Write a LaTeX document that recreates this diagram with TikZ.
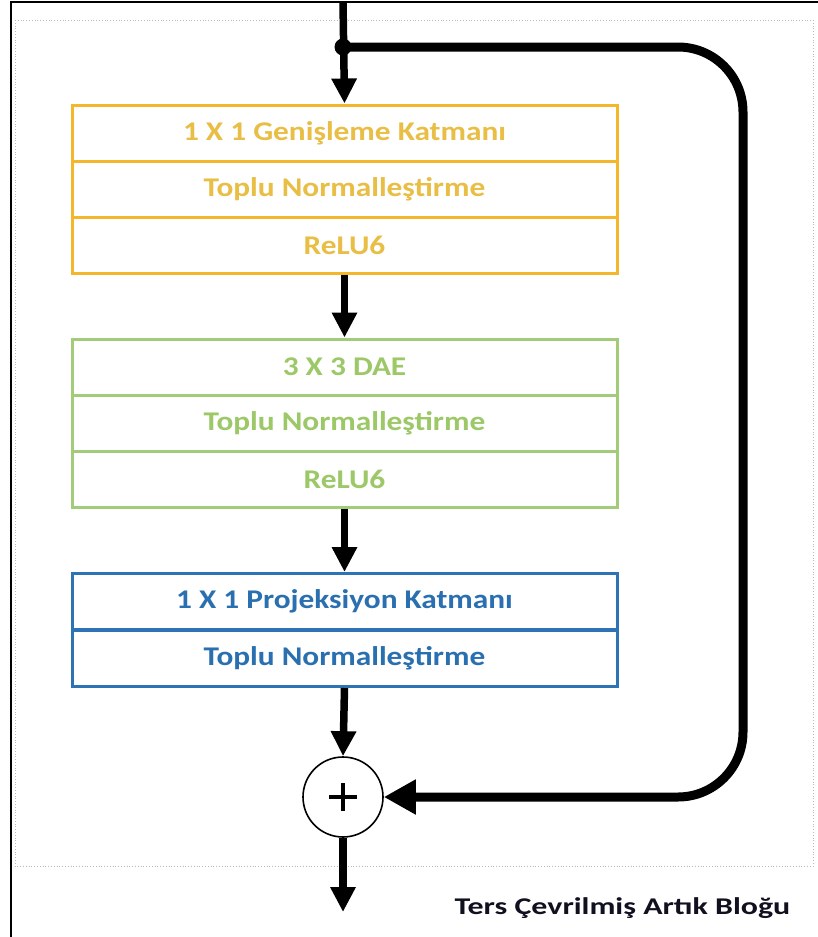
\documentclass[tikz,border=0pt]{standalone}
\usepackage{fontspec}
\setmainfont{Carlito}
\newfontfamily\labelfont[FakeStretch=1.16]{Carlito}
\newfontfamily\titlefont[FakeStretch=1.33]{Carlito}
\usetikzlibrary{arrows.meta}

\definecolor{goldline}{HTML}{F4B72C}
\definecolor{goldtext}{HTML}{E9BE45}
\definecolor{greenline}{HTML}{A3CC7A}
\definecolor{greentext}{HTML}{9CC868}
\definecolor{blueline}{HTML}{2E74B5}
\definecolor{bluetext}{HTML}{2A6FB0}
\definecolor{titletext}{HTML}{10101F}

\tikzset{
  layer/.style={draw=#1line, line width=3pt, text=#1text,
    minimum width=545pt, minimum height=56pt, inner sep=0pt,
    font=\labelfont\bfseries\fontsize{27}{30}\selectfont},
  flow/.style={line width=7.5pt, -{Triangle[width=24pt,length=25pt]}},
  skip/.style={line width=9pt, rounded corners=65pt,
    -{Triangle[width=33pt,length=32pt]}},
  adder/.style={circle, draw=black, line width=1.6pt, fill=white,
    minimum size=80pt, inner sep=0pt},
}

\begin{document}
\begin{tikzpicture}[x=1pt, y=-1pt]
  \useasboundingbox (0,0) rectangle (818,937);
  \fill[white] (0,0) rectangle (818,937);

  % page frame and slide guides
  \draw[black, line width=2pt] (11,940) -- (11,2) -- (820,2);
  \draw[gray!55, line width=0.8pt, dotted] (15,20) rectangle (813,866);

  % expansion stage
  \node[layer=gold] (e1) at (344.5,133) {1 X 1 Genişleme Katmanı};
  \node[layer=gold] (e2) at (344.5,189) {Toplu Normalleştirme};
  \node[layer=gold] (e3) at (344.5,245) {ReLU6};

  % depthwise stage
  \node[layer=green] (d1) at (344.5,367) {3 X 3 DAE};
  \node[layer=green] (d2) at (344.5,423) {Toplu Normalleştirme};
  \node[layer=green] (d3) at (344.5,479) {ReLU6};

  % projection stage
  \node[layer=blue] (p1) at (344.5,601.5) {1 X 1 Projeksiyon Katmanı};
  \node[layer=blue] (p2) at (344.5,658.5) {Toplu Normalleştirme};

  % residual sum
  \node[adder] (sum) at (343,797) {};
  \draw[line width=3.5pt] ([xshift=-14pt]sum.center) -- ([xshift=14pt]sum.center)
    ([yshift=-14pt]sum.center) -- ([yshift=14pt]sum.center);

  \coordinate (in) at (343,2);
  \coordinate (split) at (343,47);
  \coordinate (turn) at (743,47);
  \coordinate (out) at (343,912);

  % main path
  \draw[flow] (in) -- (e1.north);
  \draw[flow] (e3.south) -- (d1.north);
  \draw[flow] (d3.south) -- (p1.north);
  \draw[flow] (p2.south) -- (sum.north);
  \draw[flow] (sum.south) -- (out);

  % shortcut connection
  \draw[skip] (split) -- (turn) |- (sum.east);
  \fill (split) circle (8.5pt);

  \node[anchor=base, text=titletext,
    font=\titlefont\bfseries\fontsize{24}{28}\selectfont] (title)
    at (622.5,914) {Ters Çevrilmiş Artık Bloğu};
\end{tikzpicture}
\end{document}
